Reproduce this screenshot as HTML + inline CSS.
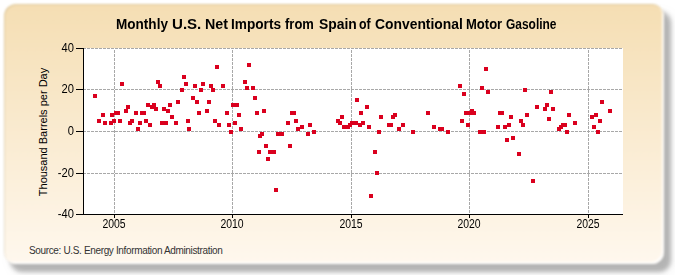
<!DOCTYPE html>
<html><head><meta charset="utf-8"><style>
html,body{margin:0;padding:0;background:#fff;width:675px;height:275px;overflow:hidden;position:relative}
*{box-sizing:border-box}
.box{position:absolute;left:3.5px;top:3.5px;width:660.5px;height:260.5px;border-radius:12px;
 background:linear-gradient(to bottom,#f5deb3 0%,#fff8ee 100%);box-shadow:inset -2px -2px 1px rgba(255,255,255,0.85),inset 1px 1px 1px rgba(90,80,30,0.14);filter:blur(1.2px)}
.shadow{position:absolute;left:10px;top:11px;width:661px;height:261px;border-radius:12px;background:rgba(0,0,0,0.26);filter:blur(2px)}
.shadow2{position:absolute;left:12px;top:13px;width:661px;height:261px;border-radius:12px;background:rgba(0,0,0,0.05);filter:blur(6px)}
.t{position:absolute;font-family:"Liberation Sans",sans-serif;color:#000;white-space:nowrap;line-height:1}
.tw{top:18px;font-size:13.9px;font-weight:bold;transform-origin:0 50%}
.yl{font-size:12px;text-align:right;width:40px;transform:scaleX(0.93);transform-origin:100% 50%}
.xl{font-size:12px;text-align:center;width:40px;transform:scaleX(0.87)}
.src{left:29px;top:245.7px;font-size:10px;color:#333;letter-spacing:-0.35px}
.ylab{font-size:11px;left:43px;top:132px;transform:translate(-50%,-50%) rotate(-90deg)}
svg{position:absolute;left:0;top:0}
</style></head><body>
<div class="shadow2"></div><div class="shadow"></div><div class="box"></div>
<svg width="675" height="275" shape-rendering="crispEdges">
<rect x="84" y="48" width="539" height="166" fill="#fff"/><line x1="83" x2="623" y1="48.5" y2="48.5" stroke="#a8a8a8" stroke-width="1" stroke-dasharray="3,1"/><line x1="83" x2="623" y1="89.5" y2="89.5" stroke="#a8a8a8" stroke-width="1" stroke-dasharray="3,1"/><line x1="83" x2="623" y1="131.5" y2="131.5" stroke="#a8a8a8" stroke-width="1" stroke-dasharray="3,1"/><line x1="83" x2="623" y1="173.5" y2="173.5" stroke="#a8a8a8" stroke-width="1" stroke-dasharray="3,1"/><line x1="114.5" x2="114.5" y1="50" y2="214" stroke="#a8a8a8" stroke-width="1" stroke-dasharray="3,1"/><line x1="232.5" x2="232.5" y1="50" y2="214" stroke="#a8a8a8" stroke-width="1" stroke-dasharray="3,1"/><line x1="351.5" x2="351.5" y1="50" y2="214" stroke="#a8a8a8" stroke-width="1" stroke-dasharray="3,1"/><line x1="469.5" x2="469.5" y1="50" y2="214" stroke="#a8a8a8" stroke-width="1" stroke-dasharray="3,1"/><line x1="588.5" x2="588.5" y1="50" y2="214" stroke="#a8a8a8" stroke-width="1" stroke-dasharray="3,1"/><line x1="83.5" x2="83.5" y1="48" y2="215" stroke="#000" stroke-width="1"/><line x1="83" x2="623" y1="214.5" y2="214.5" stroke="#000" stroke-width="1"/><line x1="76" x2="83" y1="48.5" y2="48.5" stroke="#000" stroke-width="1"/><line x1="76" x2="83" y1="89.5" y2="89.5" stroke="#000" stroke-width="1"/><line x1="76" x2="83" y1="131.5" y2="131.5" stroke="#000" stroke-width="1"/><line x1="76" x2="83" y1="173.5" y2="173.5" stroke="#000" stroke-width="1"/><line x1="76" x2="83" y1="214.5" y2="214.5" stroke="#000" stroke-width="1"/><line x1="114.5" x2="114.5" y1="215" y2="218" stroke="#000" stroke-width="1"/><line x1="232.5" x2="232.5" y1="215" y2="218" stroke="#000" stroke-width="1"/><line x1="351.5" x2="351.5" y1="215" y2="218" stroke="#000" stroke-width="1"/><line x1="469.5" x2="469.5" y1="215" y2="218" stroke="#000" stroke-width="1"/><line x1="588.5" x2="588.5" y1="215" y2="218" stroke="#000" stroke-width="1"/><rect x="120" y="82" width="4" height="4" fill="#da001e"/><rect x="156" y="80" width="4" height="4" fill="#da001e"/><rect x="158" y="84" width="4" height="4" fill="#da001e"/><rect x="182" y="75" width="4" height="4" fill="#da001e"/><rect x="180" y="88" width="4" height="4" fill="#da001e"/><rect x="184" y="82" width="4" height="4" fill="#da001e"/><rect x="193" y="84" width="4" height="4" fill="#da001e"/><rect x="199" y="88" width="4" height="4" fill="#da001e"/><rect x="201" y="82" width="4" height="4" fill="#da001e"/><rect x="209" y="84" width="4" height="4" fill="#da001e"/><rect x="211" y="88" width="4" height="4" fill="#da001e"/><rect x="215" y="65" width="4" height="4" fill="#da001e"/><rect x="221" y="84" width="4" height="4" fill="#da001e"/><rect x="243" y="80" width="4" height="4" fill="#da001e"/><rect x="247" y="63" width="4" height="4" fill="#da001e"/><rect x="245" y="86" width="4" height="4" fill="#da001e"/><rect x="251" y="86" width="4" height="4" fill="#da001e"/><rect x="458" y="84" width="4" height="4" fill="#da001e"/><rect x="462" y="92" width="4" height="4" fill="#da001e"/><rect x="484" y="67" width="4" height="4" fill="#da001e"/><rect x="480" y="86" width="4" height="4" fill="#da001e"/><rect x="486" y="90" width="4" height="4" fill="#da001e"/><rect x="523" y="88" width="4" height="4" fill="#da001e"/><rect x="549" y="90" width="4" height="4" fill="#da001e"/><rect x="93" y="94" width="4" height="4" fill="#da001e"/><rect x="101" y="113" width="4" height="4" fill="#da001e"/><rect x="97" y="119" width="4" height="4" fill="#da001e"/><rect x="103" y="121" width="4" height="4" fill="#da001e"/><rect x="110" y="113" width="4" height="4" fill="#da001e"/><rect x="109" y="121" width="4" height="4" fill="#da001e"/><rect x="112" y="119" width="4" height="4" fill="#da001e"/><rect x="114" y="111" width="4" height="4" fill="#da001e"/><rect x="116" y="111" width="4" height="4" fill="#da001e"/><rect x="118" y="119" width="4" height="4" fill="#da001e"/><rect x="124" y="109" width="4" height="4" fill="#da001e"/><rect x="126" y="105" width="4" height="4" fill="#da001e"/><rect x="128" y="121" width="4" height="4" fill="#da001e"/><rect x="130" y="119" width="4" height="4" fill="#da001e"/><rect x="134" y="111" width="4" height="4" fill="#da001e"/><rect x="136" y="127" width="4" height="4" fill="#da001e"/><rect x="138" y="121" width="4" height="4" fill="#da001e"/><rect x="140" y="111" width="4" height="4" fill="#da001e"/><rect x="142" y="111" width="4" height="4" fill="#da001e"/><rect x="144" y="119" width="4" height="4" fill="#da001e"/><rect x="146" y="103" width="4" height="4" fill="#da001e"/><rect x="148" y="123" width="4" height="4" fill="#da001e"/><rect x="150" y="105" width="4" height="4" fill="#da001e"/><rect x="152" y="103" width="4" height="4" fill="#da001e"/><rect x="154" y="107" width="4" height="4" fill="#da001e"/><rect x="160" y="121" width="4" height="4" fill="#da001e"/><rect x="164" y="121" width="4" height="4" fill="#da001e"/><rect x="162" y="107" width="4" height="4" fill="#da001e"/><rect x="166" y="109" width="4" height="4" fill="#da001e"/><rect x="168" y="103" width="4" height="4" fill="#da001e"/><rect x="170" y="115" width="4" height="4" fill="#da001e"/><rect x="174" y="121" width="4" height="4" fill="#da001e"/><rect x="176" y="100" width="4" height="4" fill="#da001e"/><rect x="191" y="96" width="4" height="4" fill="#da001e"/><rect x="195" y="100" width="4" height="4" fill="#da001e"/><rect x="207" y="100" width="4" height="4" fill="#da001e"/><rect x="197" y="111" width="4" height="4" fill="#da001e"/><rect x="205" y="109" width="4" height="4" fill="#da001e"/><rect x="186" y="119" width="4" height="4" fill="#da001e"/><rect x="187" y="127" width="4" height="4" fill="#da001e"/><rect x="213" y="119" width="4" height="4" fill="#da001e"/><rect x="217" y="123" width="4" height="4" fill="#da001e"/><rect x="225" y="111" width="4" height="4" fill="#da001e"/><rect x="227" y="123" width="4" height="4" fill="#da001e"/><rect x="229" y="130" width="4" height="4" fill="#da001e"/><rect x="231" y="103" width="4" height="4" fill="#da001e"/><rect x="235" y="103" width="4" height="4" fill="#da001e"/><rect x="233" y="121" width="4" height="4" fill="#da001e"/><rect x="237" y="113" width="4" height="4" fill="#da001e"/><rect x="239" y="127" width="4" height="4" fill="#da001e"/><rect x="253" y="96" width="4" height="4" fill="#da001e"/><rect x="255" y="111" width="4" height="4" fill="#da001e"/><rect x="262" y="109" width="4" height="4" fill="#da001e"/><rect x="260" y="132" width="4" height="4" fill="#da001e"/><rect x="276" y="132" width="4" height="4" fill="#da001e"/><rect x="286" y="121" width="4" height="4" fill="#da001e"/><rect x="290" y="111" width="4" height="4" fill="#da001e"/><rect x="292" y="111" width="4" height="4" fill="#da001e"/><rect x="294" y="119" width="4" height="4" fill="#da001e"/><rect x="296" y="127" width="4" height="4" fill="#da001e"/><rect x="300" y="125" width="4" height="4" fill="#da001e"/><rect x="308" y="123" width="4" height="4" fill="#da001e"/><rect x="312" y="130" width="4" height="4" fill="#da001e"/><rect x="280" y="132" width="4" height="4" fill="#da001e"/><rect x="306" y="132" width="4" height="4" fill="#da001e"/><rect x="336" y="119" width="4" height="4" fill="#da001e"/><rect x="338" y="121" width="4" height="4" fill="#da001e"/><rect x="340" y="115" width="4" height="4" fill="#da001e"/><rect x="342" y="125" width="4" height="4" fill="#da001e"/><rect x="346" y="125" width="4" height="4" fill="#da001e"/><rect x="348" y="123" width="4" height="4" fill="#da001e"/><rect x="350" y="121" width="4" height="4" fill="#da001e"/><rect x="354" y="121" width="4" height="4" fill="#da001e"/><rect x="355" y="98" width="4" height="4" fill="#da001e"/><rect x="358" y="123" width="4" height="4" fill="#da001e"/><rect x="359" y="111" width="4" height="4" fill="#da001e"/><rect x="361" y="121" width="4" height="4" fill="#da001e"/><rect x="365" y="105" width="4" height="4" fill="#da001e"/><rect x="367" y="125" width="4" height="4" fill="#da001e"/><rect x="379" y="115" width="4" height="4" fill="#da001e"/><rect x="377" y="130" width="4" height="4" fill="#da001e"/><rect x="387" y="123" width="4" height="4" fill="#da001e"/><rect x="389" y="123" width="4" height="4" fill="#da001e"/><rect x="391" y="115" width="4" height="4" fill="#da001e"/><rect x="393" y="113" width="4" height="4" fill="#da001e"/><rect x="397" y="127" width="4" height="4" fill="#da001e"/><rect x="401" y="123" width="4" height="4" fill="#da001e"/><rect x="411" y="130" width="4" height="4" fill="#da001e"/><rect x="426" y="111" width="4" height="4" fill="#da001e"/><rect x="432" y="125" width="4" height="4" fill="#da001e"/><rect x="438" y="127" width="4" height="4" fill="#da001e"/><rect x="440" y="127" width="4" height="4" fill="#da001e"/><rect x="446" y="130" width="4" height="4" fill="#da001e"/><rect x="460" y="119" width="4" height="4" fill="#da001e"/><rect x="464" y="111" width="4" height="4" fill="#da001e"/><rect x="466" y="123" width="4" height="4" fill="#da001e"/><rect x="468" y="111" width="4" height="4" fill="#da001e"/><rect x="470" y="109" width="4" height="4" fill="#da001e"/><rect x="472" y="111" width="4" height="4" fill="#da001e"/><rect x="496" y="125" width="4" height="4" fill="#da001e"/><rect x="498" y="111" width="4" height="4" fill="#da001e"/><rect x="500" y="111" width="4" height="4" fill="#da001e"/><rect x="503" y="125" width="4" height="4" fill="#da001e"/><rect x="507" y="123" width="4" height="4" fill="#da001e"/><rect x="509" y="115" width="4" height="4" fill="#da001e"/><rect x="519" y="119" width="4" height="4" fill="#da001e"/><rect x="521" y="123" width="4" height="4" fill="#da001e"/><rect x="525" y="113" width="4" height="4" fill="#da001e"/><rect x="535" y="105" width="4" height="4" fill="#da001e"/><rect x="543" y="107" width="4" height="4" fill="#da001e"/><rect x="545" y="103" width="4" height="4" fill="#da001e"/><rect x="547" y="117" width="4" height="4" fill="#da001e"/><rect x="551" y="107" width="4" height="4" fill="#da001e"/><rect x="557" y="127" width="4" height="4" fill="#da001e"/><rect x="567" y="113" width="4" height="4" fill="#da001e"/><rect x="573" y="121" width="4" height="4" fill="#da001e"/><rect x="559" y="125" width="4" height="4" fill="#da001e"/><rect x="561" y="123" width="4" height="4" fill="#da001e"/><rect x="563" y="123" width="4" height="4" fill="#da001e"/><rect x="565" y="130" width="4" height="4" fill="#da001e"/><rect x="600" y="100" width="4" height="4" fill="#da001e"/><rect x="608" y="109" width="4" height="4" fill="#da001e"/><rect x="590" y="115" width="4" height="4" fill="#da001e"/><rect x="594" y="113" width="4" height="4" fill="#da001e"/><rect x="598" y="119" width="4" height="4" fill="#da001e"/><rect x="592" y="125" width="4" height="4" fill="#da001e"/><rect x="596" y="130" width="4" height="4" fill="#da001e"/><rect x="258" y="134" width="4" height="4" fill="#da001e"/><rect x="264" y="144" width="4" height="4" fill="#da001e"/><rect x="257" y="150" width="4" height="4" fill="#da001e"/><rect x="268" y="150" width="4" height="4" fill="#da001e"/><rect x="272" y="150" width="4" height="4" fill="#da001e"/><rect x="266" y="157" width="4" height="4" fill="#da001e"/><rect x="288" y="144" width="4" height="4" fill="#da001e"/><rect x="373" y="150" width="4" height="4" fill="#da001e"/><rect x="478" y="130" width="4" height="4" fill="#da001e"/><rect x="482" y="130" width="4" height="4" fill="#da001e"/><rect x="505" y="138" width="4" height="4" fill="#da001e"/><rect x="511" y="136" width="4" height="4" fill="#da001e"/><rect x="517" y="152" width="4" height="4" fill="#da001e"/><rect x="274" y="188" width="4" height="4" fill="#da001e"/><rect x="375" y="171" width="4" height="4" fill="#da001e"/><rect x="369" y="194" width="4" height="4" fill="#da001e"/><rect x="531" y="179" width="4" height="4" fill="#da001e"/>
</svg>
<div class="t tw" style="left:116.20px;transform:scaleX(0.9758)">Monthly</div><div class="t tw" style="left:172.20px;transform:scaleX(1.0845)">U.S.</div><div class="t tw" style="left:204.70px;transform:scaleX(1.0271)">Net</div><div class="t tw" style="left:230.90px;transform:scaleX(0.9824)">Imports</div><div class="t tw" style="left:285.40px;transform:scaleX(0.9349)">from</div><div class="t tw" style="left:318.70px;transform:scaleX(1.0003)">Spain</div><div class="t tw" style="left:359.40px;transform:scaleX(0.8899)">of</div><div class="t tw" style="left:374.70px;transform:scaleX(0.9986)">Conventional</div><div class="t tw" style="left:465.70px;transform:scaleX(0.9372)">Motor</div><div class="t tw" style="left:505.80px;transform:scaleX(0.8608)">Gasoline</div>
<div class="t yl" style="left:34.4px;top:42.4px">40</div><div class="t yl" style="left:34.4px;top:83.4px">20</div><div class="t yl" style="left:34.4px;top:125.4px">0</div><div class="t yl" style="left:34.4px;top:167.4px">-20</div><div class="t yl" style="left:34.4px;top:208.4px">-40</div><div class="t xl" style="left:93.5px;top:218px">2005</div><div class="t xl" style="left:211.5px;top:218px">2010</div><div class="t xl" style="left:330.5px;top:218px">2015</div><div class="t xl" style="left:448.5px;top:218px">2020</div><div class="t xl" style="left:567.5px;top:218px">2025</div>
<div class="t ylab">Thousand Barrels per Day</div>
<div class="t src">Source: U.S. Energy Information Administration</div>
</body></html>
